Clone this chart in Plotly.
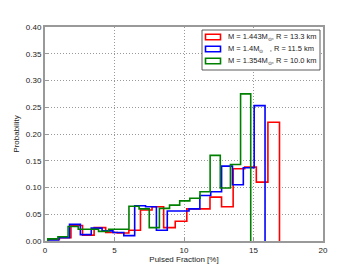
import numpy as np
import plotly.graph_objects as go

# Histogram ranges (20 equal bins each) and bin probabilities
n_bins = 20
red_range = (0.20, 16.87)
blue_range = (0.20, 15.83)
green_range = (0.20, 14.80)

red_vals = [0.003, 0.006, 0.029, 0.011, 0.025, 0.016, 0.015, 0.020, 0.058, 0.064,
            0.025, 0.037, 0.060, 0.060, 0.082, 0.064, 0.135, 0.138, 0.110, 0.222]
blue_vals = [0.002, 0.006, 0.031, 0.012, 0.024, 0.019, 0.016, 0.010, 0.066, 0.064,
             0.020, 0.056, 0.056, 0.060, 0.085, 0.092, 0.140, 0.105, 0.137, 0.253]
green_vals = [0.004, 0.008, 0.027, 0.022, 0.022, 0.018, 0.022, 0.022, 0.065, 0.060,
              0.025, 0.061, 0.067, 0.075, 0.080, 0.092, 0.160, 0.099, 0.143, 0.275]

labels = ["M = 1.443M<sub>⊙</sub>, R = 13.3 km",
          "M = 1.4M<sub>⊙</sub>\u00a0\u00a0\u00a0, R = 11.5 km",
          "M = 1.354M<sub>⊙</sub>, R = 10.0 km"]
colors = ["#ff0000", "#0000ff", "#008000"]

x_ticks = [0, 5, 10, 15, 20]
y_ticks = [0.0, 0.05, 0.10, 0.15, 0.20, 0.25, 0.30, 0.35, 0.40]

W, H = 360, 270
ML, MR, MT, MB = 45, 37, 27, 29


def step_outline(rng, vals):
    edges = np.linspace(rng[0], rng[1], n_bins + 1)
    xs, ys = [edges[0]], [0.0]
    for i, v in enumerate(vals):
        xs += [edges[i], edges[i + 1]]
        ys += [v, v]
    xs.append(edges[-1])
    ys.append(0.0)
    return xs, ys


def px_x(p):
    return (p - ML) / (W - ML - MR)


def px_y(p):
    return (H - MB - p) / (H - MT - MB)


fig = go.Figure()
for rng, vals, lab, col in zip([red_range, blue_range, green_range],
                               [red_vals, blue_vals, green_vals], labels, colors):
    xs, ys = step_outline(rng, vals)
    fig.add_trace(go.Scatter(x=xs, y=ys, mode="lines", name=lab, showlegend=False,
                             line=dict(color=col, width=1.6)))

# Manual legend (outlined patches + text), matching the reference's boxed legend
shapes = [dict(type="rect", xref="paper", yref="paper",
               x0=px_x(202), x1=px_x(320), y0=px_y(70), y1=px_y(30),
               fillcolor="white", line=dict(color="#333333", width=0.8), layer="above")]
annotations = []
row_centers = [37, 49, 61]
for yc, lab, col in zip(row_centers, labels, colors):
    shapes.append(dict(type="rect", xref="paper", yref="paper",
                       x0=px_x(205.5), x1=px_x(220.5), y0=px_y(yc + 2.8), y1=px_y(yc - 2.8),
                       fillcolor="rgba(255,255,255,0)", line=dict(color=col, width=1.6),
                       layer="above"))
    annotations.append(dict(xref="paper", yref="paper", x=px_x(226), y=px_y(yc),
                            xanchor="left", yanchor="middle", text=lab, showarrow=False,
                            font=dict(size=7.5, color="#222")))

font = "Liberation Sans, Arial, sans-serif"
grid_dash = "1px,2px"
fig.update_layout(
    width=W, height=H,
    margin=dict(l=ML, r=MR, t=MT, b=MB),
    paper_bgcolor="white", plot_bgcolor="white",
    font=dict(family=font, size=8, color="#222"),
    showlegend=False,
    shapes=shapes, annotations=annotations,
    xaxis=dict(range=[0, 20], tickvals=x_ticks, ticktext=[str(t) for t in x_ticks],
               showgrid=True, gridcolor="#999999", griddash=grid_dash, gridwidth=1,
               showline=True, mirror=True, linecolor="#999999", linewidth=2,
               ticks="inside", ticklen=3, tickcolor="#999999", zeroline=False,
               automargin=False,
               title=dict(text="Pulsed Fraction [%]", font=dict(size=8), standoff=3)),
    yaxis=dict(range=[0, 0.40], tickvals=y_ticks, ticktext=[f"{t:.2f}" for t in y_ticks],
               showgrid=True, gridcolor="#999999", griddash=grid_dash, gridwidth=1,
               showline=True, mirror=True, linecolor="#999999", linewidth=2,
               ticks="inside", ticklen=3, tickcolor="#999999", zeroline=False,
               automargin=False,
               title=dict(text="Probability", font=dict(size=8), standoff=5)),
)

fig.write_html("out.html", config={"displayModeBar": False},
               post_script="document.body.style.margin='0';")
